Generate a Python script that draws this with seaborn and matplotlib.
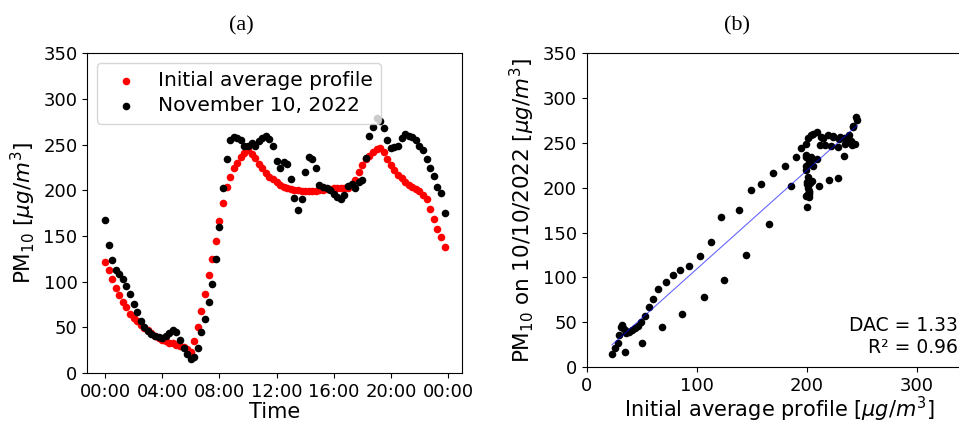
import numpy as np
import pandas as pd
import matplotlib.pyplot as plt
import seaborn as sns

# time of day in hours, one value every 15 minutes
hours = np.arange(0, 24, 0.25)

# PM10, initial average profile (red)
initial_profile = [122, 113, 103, 93, 85, 78, 72, 65, 60, 57, 53, 49, 47, 44, 41, 38,
                   36, 34.5, 33, 32.5, 31, 29.5, 28, 26, 23, 35, 50, 68, 87, 107, 125, 145,
                   166, 186, 204, 215, 224, 230, 236, 241, 244, 240, 235, 229, 224, 219, 215, 212,
                   209, 206, 204, 202, 201, 200, 200, 199.5, 199, 199, 199, 199.5, 200, 200.5, 201, 201,
                   202, 202, 202, 202, 203, 205, 211, 220, 228, 234, 238, 242, 245, 246, 242, 234,
                   228, 222, 217, 213, 209, 206, 203.5, 201, 199, 195, 190, 180, 169, 158, 149, 138]

# PM10 measured on November 10, 2022 (black)
nov_10_2022 = [167, 140, 124, 113, 108, 103, 95, 87, 76, 67, 57, 50, 46, 43, 41, 39,
               38.5, 41, 44, 47, 45, 36, 27, 21, 15, 17, 27, 45, 59, 78, 97, 125,
               160, 202, 234, 255, 258, 257, 255, 248, 249, 252, 249, 254, 257, 259, 256, 248,
               232, 224, 231, 229, 212, 192, 178, 191, 220, 236, 234, 224, 206, 204, 203, 200,
               196, 193, 190, 195, 205, 207, 202, 209, 211, 235, 259, 269, 279, 276, 268, 255,
               246, 247, 248, 257, 262, 260, 258.6, 255, 249, 244, 234, 224, 216, 204, 197, 175]

tick_hours = [0, 4, 8, 12, 16, 20, 24]
tick_labels = ['00:00', '04:00', '08:00', '12:00', '16:00', '20:00', '00:00']
pm_ticks = [0, 50, 100, 150, 200, 250, 300, 350]
profile_ticks = [0, 100, 200, 300]

dac = 1.33
r_squared = 0.96

df = pd.DataFrame({'hour': hours, 'profile': initial_profile, 'day': nov_10_2022})

unit = r'[$\mu g/m^3$]'

fig = plt.figure(figsize=(9.59, 4.22), dpi=100)
ax1 = fig.add_axes([0.0910, 0.1161, 0.3907, 0.7576])
ax2 = fig.add_axes([0.6118, 0.1303, 0.4015, 0.7434])

# (a) daily profiles
sns.scatterplot(data=df, x='hour', y='profile', color='red', s=30, linewidth=0,
                label='Initial average profile', ax=ax1)
sns.scatterplot(data=df, x='hour', y='day', color='black', s=30, linewidth=0,
                label='November 10, 2022', ax=ax1)
ax1.set_xlim(-1.24, 24.97)
ax1.set_ylim(0, 350)
ax1.set_xticks(tick_hours)
ax1.set_xticklabels(tick_labels)
ax1.set_yticks(pm_ticks)
ax1.tick_params(labelsize=13)
ax1.set_xlabel('Time', fontsize=15, labelpad=1)
ax1.set_ylabel('PM$_{10}$ ' + unit, fontsize=15.5)
ax1.legend(loc='upper left', fontsize=14.5, labelspacing=0.3, handletextpad=0.6)

# (b) day vs average profile
sns.scatterplot(data=df, x='profile', y='day', color='black', s=30, linewidth=0, ax=ax2)
sns.regplot(data=df, x='profile', y='day', scatter=False, ci=None, color='blue',
            line_kws={'lw': 0.8, 'alpha': 0.6}, ax=ax2)
ax2.set_xlim(0, 350)
ax2.set_ylim(0, 350)
ax2.set_xticks(profile_ticks)
ax2.set_yticks(pm_ticks)
ax2.spines['right'].set_visible(False)
ax2.tick_params(labelsize=13)
ax2.set_xlabel('Initial average profile ' + unit, fontsize=15, labelpad=0)
ax2.set_ylabel('PM$_{10}$ on 10/10/2022 ' + unit, fontsize=15.5)

fig.text(0.999, 0.154, f'DAC = {dac:.2f}\nR² = {r_squared:.2f}', ha='right', va='bottom',
         fontsize=13.5, multialignment='right')

fig.text(241 / 959, 1 - 26 / 422, '(a)', ha='center', va='center',
         family='Liberation Serif', fontsize=16)
fig.text(737 / 959, 1 - 26 / 422, '(b)', ha='center', va='center',
         family='Liberation Serif', fontsize=16)

fig.savefig('out.png', dpi=100)
